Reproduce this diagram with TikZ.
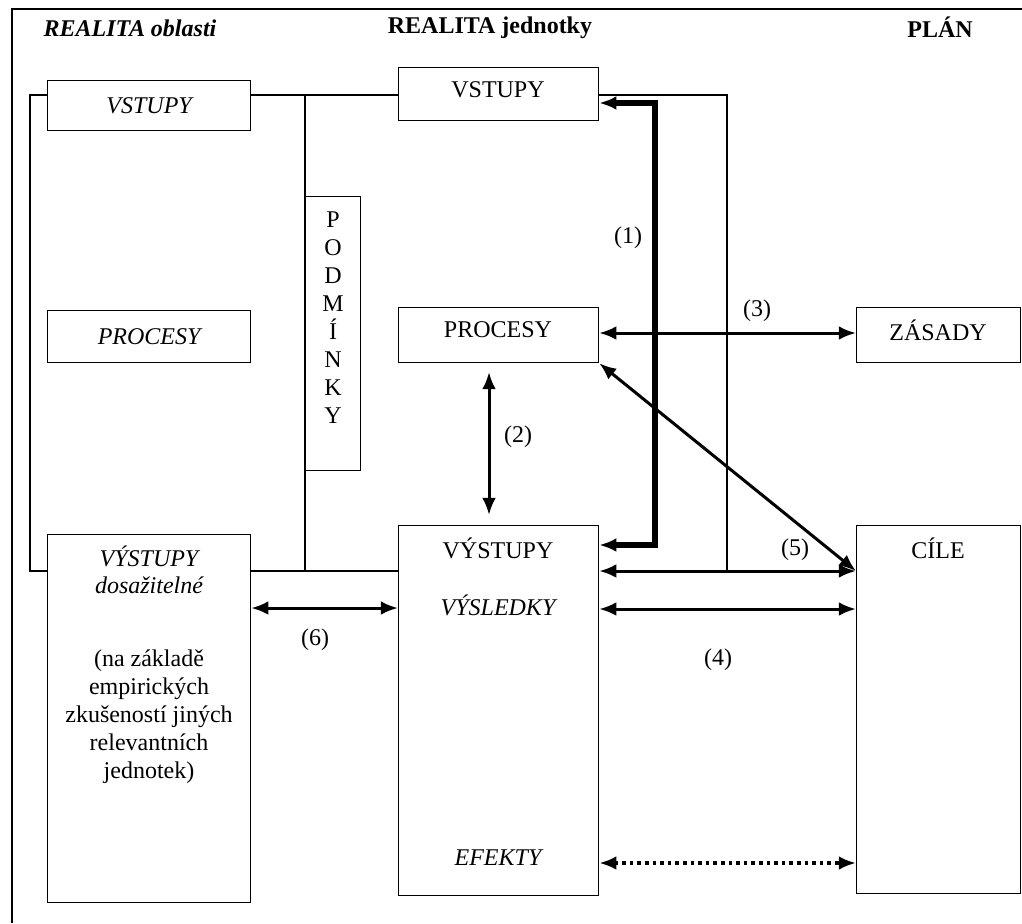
\documentclass[tikz,border=0pt]{standalone}
\usepackage{fontspec}
\setmainfont{Liberation Serif}
\usetikzlibrary{
  arrows.meta,
  positioning,
}
\tikzset{
  panel/.style={
    rectangle, draw, line width=0.6pt, inner sep=0pt, anchor=north west,
  },
  thinLine/.style={line width=0.6pt},
  arrowMed/.style={
    {Latex[length=3mm,width=2.4mm]}-{Latex[length=3mm,width=2.4mm]},
    line width=1.5pt,
  },
  arrowBig/.style={
    {Latex[length=3mm,width=2.4mm]}-{Latex[length=3mm,width=2.4mm]},
    line width=2.6pt,
  },
  arrowDot/.style={
    {Latex[length=3mm,width=2.4mm]}-{Latex[length=3mm,width=2.4mm]},
    line width=1.8pt, dotted,
  },
  head/.style={font=\bfseries\large},
  lbl/.style={font=\large},
}

\begin{document}
\begin{tikzpicture}[x=0.5pt,y=-0.5pt]
\useasboundingbox (0,0) rectangle (1022,923);
\draw[thinLine] (1022,9) -- (12,9) -- (12,923);

% headings
\node[head, font=\bfseries\itshape\large] (hOblast) at (130,28) {REALITA oblasti};
\node[head] (hJednotka) at (490,28) {REALITA jednotky};
\node[head] (hPlan) at (940,27) {PLÁN};

% realita oblasti
\node[panel, minimum width=101.5pt, minimum height=25pt] (oVstupy) at (47,80) {};
\node[lbl, font=\itshape\large] at (oVstupy.center) {VSTUPY};
\node[panel, minimum width=101.5pt, minimum height=26pt] (oProcesy) at (47,310) {};
\node[lbl, font=\itshape\large] at (oProcesy.center) {PROCESY};
\node[panel, minimum width=101.5pt, minimum height=184pt] (oVystupy) at (47,534) {};
\node[lbl, font=\itshape\large] (oVystupyT) at (149,556) {VÝSTUPY};
\node[lbl, font=\itshape\large] (oDosaz) at (149,585) {dosažitelné};
\node[lbl, align=center] (oPozn) at (149,717) {(na základě\\empirických\\zkušeností jiných\\relevantních\\jednotek)};

% podminky
\node[panel, minimum width=27.5pt, minimum height=137pt] (podm) at (305,196) {};
\node[lbl, align=center, yshift=8pt] at (podm.center) {P\\O\\D\\M\\Í\\N\\K\\Y};

% realita jednotky
\node[panel, minimum width=100pt, minimum height=26.5pt] (jVstupy) at (398,67) {};
\node[lbl] at (498,90) {VSTUPY};
\node[panel, minimum width=100pt, minimum height=27.5pt] (jProcesy) at (398,307) {};
\node[lbl] at (498,330) {PROCESY};
\node[panel, minimum width=100pt, minimum height=185pt] (jVystupy) at (398,525) {};
\node[lbl] (jVystupyT) at (498,548) {VÝSTUPY};
\node[lbl, font=\itshape\large] (jVysledky) at (498,605) {VÝSLEDKY};
\node[lbl, font=\itshape\large] (jEfekty) at (498,858) {EFEKTY};

% plan
\node[panel, minimum width=82pt, minimum height=27.5pt] (pZasady) at (856,307) {};
\node[lbl] at (938,330) {ZÁSADY};
\node[panel, minimum width=82pt, minimum height=184pt] (pCile) at (856,525) {};
\node[lbl] at (938,548) {CÍLE};

% thin connections
\draw[thinLine] (oVstupy.west |- 0,95) -- (30,95) -- (30,571) -- (oVystupy.west |- 0,571);
\draw[thinLine] (oVstupy.east |- 0,95) -- (jVstupy.west |- 0,95);
\draw[thinLine] (305,95) -- (305,571);
\draw[thinLine] (oVystupy.east |- 0,571) -- (jVystupy.west |- 0,571);
\draw[thinLine] (jVstupy.east |- 0,95) -- (727,95) -- (727,571);

% arrows
\draw[arrowBig] (jVystupy.east |- 0,545) -- (655,545) -- (655,103) -- (jVstupy.east |- 0,103);
\node[lbl] (n1) at (628,238) {(1)};
\draw[arrowMed] (489,372) -- (489,515);
\node[lbl] (n2) at (518,437) {(2)};
\draw[arrowMed] (jProcesy.east |- 0,333) -- (pZasady.west |- 0,333);
\node[lbl] (n3) at (757,311) {(3)};
\draw[arrowMed] (jProcesy.south east) -- (pCile.west |- 0,571);
\node[lbl] (n5) at (795,550) {(5)};
\draw[arrowMed] (jVystupy.east |- 0,571) -- (pCile.west |- 0,571);
\draw[arrowMed] (jVystupy.east |- 0,609) -- (pCile.west |- 0,609);
\node[lbl] (n4) at (718,660) {(4)};
\draw[arrowDot] (jVystupy.east |- 0,863) -- (pCile.west |- 0,863);
\draw[arrowMed] (oVystupy.east |- 0,608) -- (jVystupy.west |- 0,608);
\node[lbl] (n6) at (315,640) {(6)};
\end{tikzpicture}
\end{document}
